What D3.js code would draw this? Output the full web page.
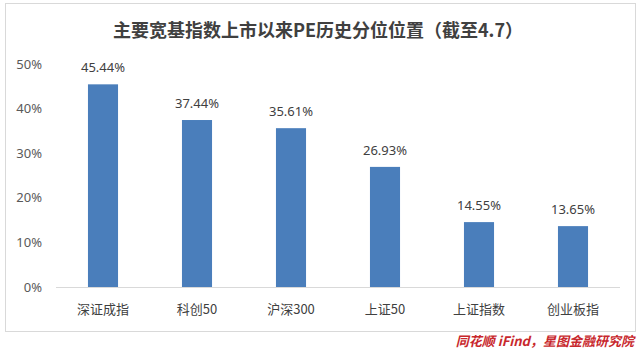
<!DOCTYPE html>
<html>
<head>
<meta charset="utf-8">
<script src="https://cdn.jsdelivr.net/npm/d3@7"></script>
<style>
  body { margin: 0; background: #fff; }
  svg { display: block; font-family: "Noto Sans CJK SC", "Noto Sans", sans-serif; }
</style>
</head>
<body>
<svg id="chart" width="640" height="352"></svg>
<script>
// données
var categories = ["深证成指", "科创50", "沪深300", "上证50", "上证指数", "创业板指"];
var values = [45.44, 37.44, 35.61, 26.93, 14.55, 13.65];
var yTicks = [0, 10, 20, 30, 40, 50];

var svg = d3.select("#chart");
var W = 640, H = 352;
var margin = {left: 56, right: 20, top: 64, bottom: 65};

// cadre du graphique
svg.append("rect")
    .attr("x", 5.5).attr("y", 3.5)
    .attr("width", 630).attr("height", 328)
    .attr("fill", "#fff")
    .attr("stroke", "#d9d9d9");

svg.append("text")
    .attr("x", 318).attr("y", 37)
    .attr("text-anchor", "middle")
    .attr("font-size", 18)
    .attr("font-weight", "bold")
    .attr("fill", "#404040")
    .text("主要宽基指数上市以来PE历史分位位置（截至4.7）");

var x = d3.scaleBand()
    .domain(categories)
    .range([margin.left, W - margin.right])
    .paddingInner(0.68)
    .paddingOuter(0.34);

var y = d3.scaleLinear()
    .domain([0, 50])
    .range([H - margin.bottom, margin.top]);

// axe y, sans ligne
var yAxis = svg.append("g")
    .attr("transform", "translate(" + (margin.left - 14) + ",0)")
    .call(d3.axisLeft(y).tickValues(yTicks).tickSize(0).tickPadding(0).tickFormat(function(d) { return d + "%"; }));
yAxis.select(".domain").remove();
yAxis.selectAll("text")
    .attr("font-size", 13)
    .attr("fill", "#595959")
    .attr("font-family", "Noto Sans, sans-serif");

// ligne de base
svg.append("line")
    .attr("x1", margin.left).attr("x2", W - margin.right)
    .attr("y1", y(0) + 0.5).attr("y2", y(0) + 0.5)
    .attr("stroke", "#d9d9d9");

svg.selectAll("rect.bar")
    .data(values)
    .enter().append("rect")
    .attr("class", "bar")
    .attr("x", function(d, i) { return x(categories[i]); })
    .attr("width", x.bandwidth())
    .attr("y", function(d) { return y(d); })
    .attr("height", function(d) { return y(0) - y(d); })
    .attr("fill", "#4a7ebb");

svg.selectAll("text.val")
    .data(values)
    .enter().append("text")
    .attr("class", "val")
    .attr("x", function(d, i) { return x(categories[i]) + x.bandwidth() / 2; })
    .attr("y", function(d) { return y(d) - 12; })
    .attr("text-anchor", "middle")
    .attr("font-size", 13)
    .attr("fill", "#404040")
    .attr("font-family", "Noto Sans, sans-serif")
    .text(function(d) { return d.toFixed(2) + "%"; });

var xAxis = svg.append("g")
    .attr("transform", "translate(0," + y(0) + ")")
    .call(d3.axisBottom(x).tickSize(0).tickPadding(18));
xAxis.select(".domain").remove();
xAxis.selectAll("text")
    .attr("font-size", 13)
    .attr("fill", "#404040")
    .attr("font-family", "Noto Sans CJK SC, sans-serif");

svg.append("text")
    .attr("x", 634).attr("y", 346)
    .attr("text-anchor", "end")
    .attr("font-size", 13)
    .attr("font-style", "italic")
    .attr("font-weight", "bold")
    .attr("fill", "#c8282d")
    .text("同花顺 iFind，星图金融研究院");
</script>
</body>
</html>
